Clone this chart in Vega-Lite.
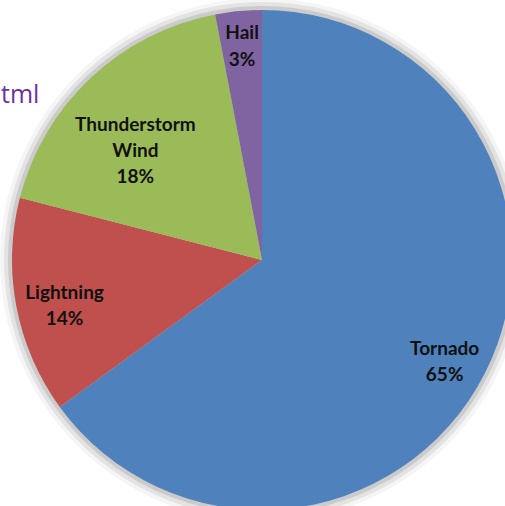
{
  "$schema": "https://vega.github.io/schema/vega-lite/v6.json",
  "width": 524,
  "height": 520,
  "autosize": {"type": "none"},
  "padding": 0,
  "background": "white",
  "config": {"view": {"stroke": null}},
  "title": {
    "text": "tml",
    "orient": "top",
    "anchor": "start",
    "frame": "group",
    "offset": -110,
    "dx": 1,
    "fontSize": 25,
    "fontWeight": "normal",
    "font": "Open Sans",
    "color": "#7030A0"
  },
  "data": {
    "values": [
      {"category": "Tornado", "value": 65, "order": 1, "label": "Tornado\n65%"},
      {"category": "Lightning", "value": 14, "order": 2, "label": "Lightning\n14%"},
      {"category": "Thunderstorm Wind", "value": 18, "order": 3, "label": "Thunderstorm\nWind\n18%"},
      {"category": "Hail", "value": 3, "order": 4, "label": "Hail\n3%"}
    ]
  },
  "encoding": {
    "theta": {"field": "value", "type": "quantitative", "stack": true},
    "order": {"field": "order", "type": "quantitative"}
  },
  "layer": [
    {"mark": {"type": "arc", "radius": 262, "color": "#000000", "opacity": 0.04}},
    {"mark": {"type": "arc", "radius": 258, "color": "#000000", "opacity": 0.07}},
    {"mark": {"type": "arc", "radius": 254, "color": "#000000", "opacity": 0.1}},
    {
      "mark": {"type": "arc", "radius": 250},
      "encoding": {
        "color": {
          "field": "category",
          "type": "nominal",
          "scale": {
            "domain": ["Tornado", "Lightning", "Thunderstorm Wind", "Hail"],
            "range": ["#4F81BD", "#C0504D", "#9BBB59", "#8064A2"]
          },
          "legend": null
        }
      }
    },
    {
      "mark": {"type": "text", "radius": 205, "dy": -4, "lineBreak": "\n", "lineHeight": 26, "font": "Lato", "fontWeight": "bold", "fontSize": 19, "color": "#111111", "align": "center", "baseline": "middle"},
      "encoding": {"text": {"condition": {"test": "datum.category == 'Tornado'", "field": "label", "type": "nominal"}, "value": ""}}
    },
    {
      "mark": {"type": "text", "radius": 201, "dy": -5, "lineBreak": "\n", "lineHeight": 26, "font": "Lato", "fontWeight": "bold", "fontSize": 19, "color": "#111111", "align": "center", "baseline": "middle"},
      "encoding": {"text": {"condition": {"test": "datum.category == 'Lightning'", "field": "label", "type": "nominal"}, "value": ""}}
    },
    {
      "mark": {"type": "text", "radius": 185, "lineBreak": "\n", "lineHeight": 26, "font": "Lato", "fontWeight": "bold", "fontSize": 19, "color": "#111111", "align": "center", "baseline": "middle"},
      "encoding": {"text": {"condition": {"test": "datum.category == 'Thunderstorm Wind'", "field": "label", "type": "nominal"}, "value": ""}}
    },
    {
      "mark": {"type": "text", "radius": 222, "dy": -6, "dx": 1, "lineBreak": "\n", "lineHeight": 27, "font": "Lato", "fontWeight": "bold", "fontSize": 19, "color": "#111111", "align": "center", "baseline": "middle"},
      "encoding": {"text": {"condition": {"test": "datum.category == 'Hail'", "field": "label", "type": "nominal"}, "value": ""}}
    }
  ]
}
